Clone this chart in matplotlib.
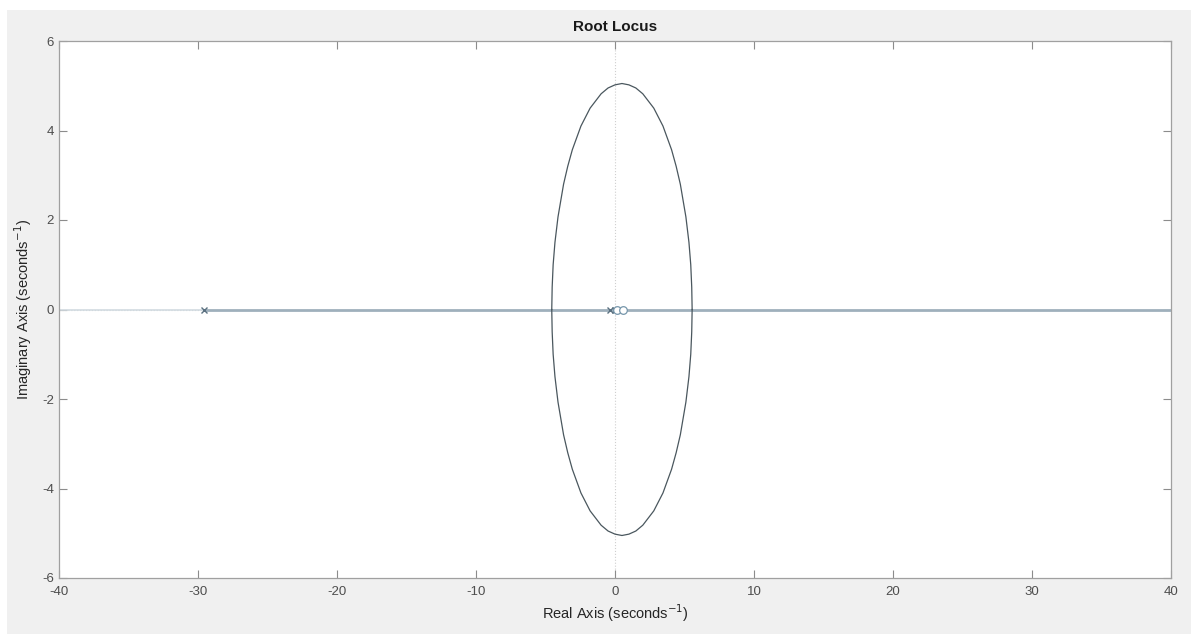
import matplotlib
matplotlib.use("Agg")
import matplotlib.pyplot as plt
from matplotlib.patches import Rectangle

# upper half of the locus loop (real, imag)
loop_re = [-4.55, -4.52, -4.45, -4.32, -4.10, -3.70, -3.40, -3.07, -2.45, -1.79,
           -1.00, -0.50, 0.00, 0.50, 1.00, 1.50, 2.00, 2.79, 3.45, 4.07,
           4.40, 4.70, 5.10, 5.32, 5.45, 5.52, 5.55]
loop_im = [0.00, 0.50, 1.00, 1.50, 2.07, 2.80, 3.20, 3.57, 4.10, 4.50,
           4.82, 4.95, 5.02, 5.05, 5.02, 4.95, 4.82, 4.50, 4.10, 3.57,
           3.20, 2.80, 2.07, 1.50, 1.00, 0.50, 0.00]

# real-axis branches
axis_left = [-40, -29.6]
axis_right = [-29.6, 40]

poles_re = [-29.6, -0.35, 0.0]
zeros_re = [0.15, 0.6]

xticks = [-40, -30, -20, -10, 0, 10, 20, 30, 40]
yticks = [-6, -4, -2, 0, 2, 4, 6]

plt.rcParams['font.family'] = ['Liberation Sans', 'DejaVu Sans']
plt.rcParams['axes.unicode_minus'] = False

fig = plt.figure(figsize=(11.91, 6.34), dpi=100, facecolor='#f0f0f0')
# thin white strips along the top and left edges of the screenshot
fig.patches.append(Rectangle((0, 1 - 10 / 634), 1, 10 / 634, transform=fig.transFigure,
                             facecolor='white', edgecolor='none', zorder=-10))
fig.patches.append(Rectangle((0, 0), 7 / 1191, 1, transform=fig.transFigure,
                             facecolor='white', edgecolor='none', zorder=-10))

ax = fig.add_axes([59 / 1191, 1 - 578 / 634, (1171 - 59) / 1191, (578 - 41) / 634])
ax.set_facecolor('white')

# zero lines
ax.axvline(0, color='#cfcfcf', lw=0.8, ls=':', zorder=1)
ax.axhline(0, color='#cfcfcf', lw=0.8, ls=':', zorder=1)

ax.plot(axis_left, [0, 0], color='#d2dbe1', lw=1.2, zorder=2)
ax.plot(axis_right, [0, 0], color='#9fb0bc', lw=2.0, zorder=2)

ax.plot(loop_re, loop_im, color='#4a575e', lw=0.9, zorder=3)
ax.plot(loop_re, [-v for v in loop_im], color='#4a575e', lw=0.9, zorder=3)

ax.plot(poles_re, [0] * len(poles_re), ls='none', marker='x', ms=5, mew=1.0,
        color='#5a7080', zorder=4)
ax.plot(zeros_re, [0] * len(zeros_re), ls='none', marker='o', ms=5.5, mew=0.9,
        mfc='white', mec='#7696ab', zorder=4)

ax.set_xlim(-40, 40)
ax.set_ylim(-6, 6)
ax.set_xticks(xticks)
ax.set_yticks(yticks)
ax.tick_params(direction='in', top=True, right=True, length=6, width=0.8,
               colors='#8c8c8c', labelcolor='#4d4d4d', labelsize=9.5)
ax.tick_params(axis='x', pad=6)
for s in ax.spines.values():
    s.set_color('#a0a0a0')
    s.set_linewidth(0.9)

ax.set_title('Root Locus', fontsize=11, fontweight='bold', color='#1a1a1a', pad=7)
ax.set_xlabel('Real Axis (seconds$^{-1}$)', fontsize=10.5, color='#262626', labelpad=3)
ax.set_ylabel('Imaginary Axis (seconds$^{-1}$)', fontsize=10.5, color='#262626', labelpad=6)

fig.savefig('out.png', dpi=100, facecolor=fig.get_facecolor())
